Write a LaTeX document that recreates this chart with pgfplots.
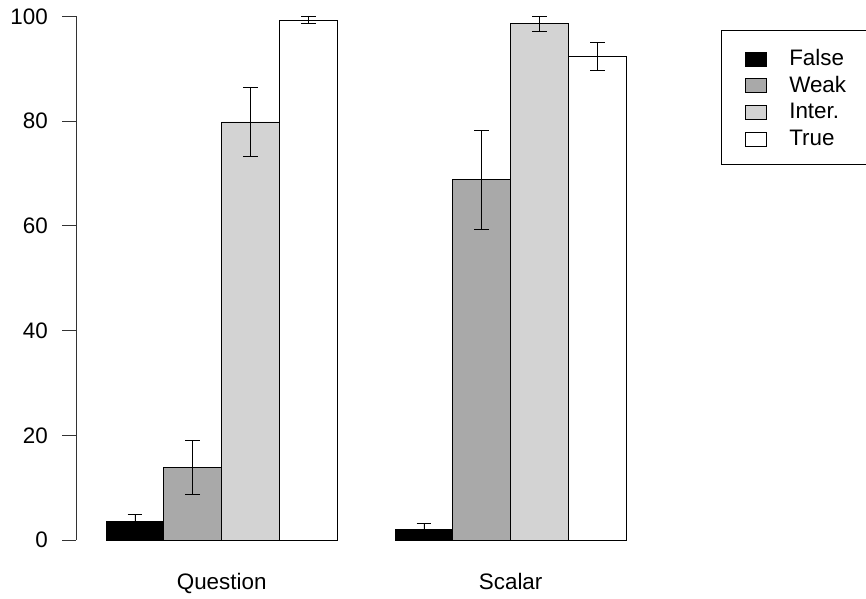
\documentclass[border=0pt]{standalone}
\usepackage{pgfplots}
\pgfplotsset{compat=1.18}
\usepackage{pgfplotstable}
\usepackage{fontspec}
\setmainfont{Liberation Sans}
\definecolor{weakgray}{RGB}{169,169,169}
\definecolor{intergray}{RGB}{211,211,211}
\pgfplotstableread{
x y ep em
1.5 3.5 1.3 1.3
6.5 2.1 1.0 1.0
}\falsedata
\pgfplotstableread{
x y ep em
2.5 13.9 5.2 5.2
7.5 68.8 9.4 9.5
}\weakdata
\pgfplotstableread{
x y ep em
3.5 79.85 6.65 6.65
8.5 98.6 1.4 1.4
}\interdata
\pgfplotstableread{
x y ep em
4.5 99.3 0.8 0.7
9.5 92.4 2.7 2.7
}\truedata
\begin{document}
\begin{tikzpicture}
\path[use as bounding box] (0,0) rectangle (866bp,599bp);
\begin{axis}[
  at={(76bp,59bp)}, anchor=south west,
  x=57.8bp, y=5.235bp,
  xmin=0.48, xmax=10.52, ymin=0, ymax=100,
  clip=false,
  axis lines*=left,
  x axis line style={draw=none},
  y axis line style={line width=0.9bp, black!80},
  tick align=outside,
  major tick length=14bp,
  ytick={0,20,40,60,80,100},
  xtick={3,8},
  xticklabels={Question,Scalar},
  xtick style={draw=none},
  ytick style={line width=0.9bp, black!80},
  /pgf/number format/assume math mode=true,
  every tick label/.append style={font=\fontsize{22.4bp}{27bp}\selectfont},
  yticklabel style={inner sep=0pt, anchor=east, xshift=-14bp},
  xticklabel style={inner sep=0pt, anchor=base, yshift=-35bp},
  ybar, bar width=1, bar shift=0pt,
  every axis plot/.append style={draw=black, line width=0.9bp},
  error bars/error bar style={line width=0.9bp, black},
  error bars/error mark options={rotate=90, mark size=7.3bp, line width=0.9bp, black},
  legend cell align=left,
  legend image code/.code={\draw[#1, line width=0.8bp] (0bp,-8.5bp) rectangle (21bp,5.5bp);},
  legend style={at={(1.1115,0.9742)}, anchor=north west,
    draw=black, line width=0.9bp,
    inner xsep=24bp, inner ysep=17bp,
    font=\fontsize{22.4bp}{27bp}\selectfont,
    nodes={inner sep=0pt, text height=18bp, text depth=2bp},
    row sep=6.7bp, column sep=22bp},
]
\addplot[fill=black, error bars/.cd, y dir=both, y explicit]
  table[x=x, y=y, y error plus=ep, y error minus=em] {\falsedata};
\addlegendentry{False}
\addplot[fill=weakgray, error bars/.cd, y dir=both, y explicit]
  table[x=x, y=y, y error plus=ep, y error minus=em] {\weakdata};
\addlegendentry{Weak}
\addplot[fill=intergray, error bars/.cd, y dir=both, y explicit]
  table[x=x, y=y, y error plus=ep, y error minus=em] {\interdata};
\addlegendentry{Inter.}
\addplot[fill=white, error bars/.cd, y dir=both, y explicit]
  table[x=x, y=y, y error plus=ep, y error minus=em] {\truedata};
\addlegendentry{True}
\end{axis}
\end{tikzpicture}
\end{document}
